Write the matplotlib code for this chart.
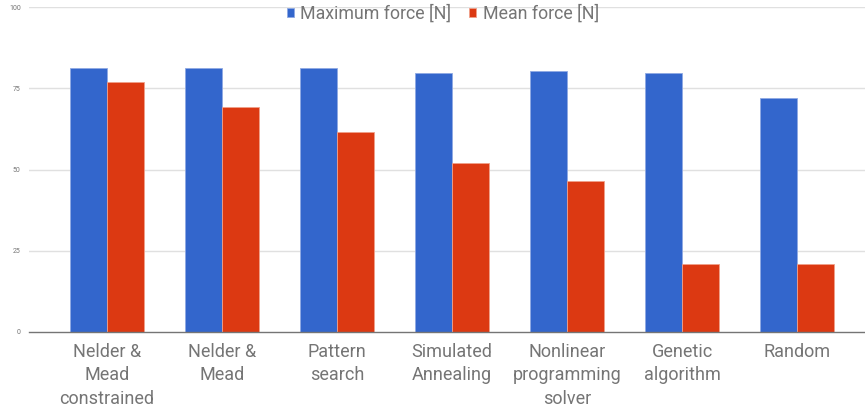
import matplotlib
matplotlib.use("Agg")
import matplotlib.pyplot as plt
import numpy as np

categories = ["Nelder &\nMead\nconstrained", "Nelder &\nMead", "Pattern\nsearch",
              "Simulated\nAnnealing", "Nonlinear\nprogramming\nsolver", "Genetic\nalgorithm", "Random"]
max_force = [81.1, 81.1, 81.1, 79.8, 80.2, 79.8, 71.9]
mean_force = [77.0, 69.3, 61.6, 51.9, 46.6, 20.8, 20.8]
yticks = [0, 25, 50, 75, 100]
series_names = ["Maximum force [N]", "Mean force [N]"]

plt.rcParams['font.family'] = ['Roboto', 'DejaVu Sans']

fig = plt.figure(figsize=(8.65, 4.12), dpi=100)
ax = fig.add_axes([29/865, 1 - 332/412, 836/865, 325/412])

x = np.arange(len(categories))
w = 0.32
ax.bar(x - w/2, max_force, w, color="#3366cc", edgecolor="#8fa9e3", linewidth=0.6, label=series_names[0], zorder=3)
ax.bar(x + w/2, mean_force, w, color="#dc3912", edgecolor="#f0a08a", linewidth=0.6, label=series_names[1], zorder=3)

ax.set_ylim(0, 100)
ax.set_xlim(-0.678, 6.591)
ax.set_yticks(yticks)
ax.set_yticklabels([str(v) for v in yticks], fontsize=5, color="#757575")
ax.tick_params(axis='y', length=0, pad=6)
ax.set_xticks(x)
ax.set_xticklabels(categories, fontsize=13, color="#757575", linespacing=1.38, va='top')
ax.tick_params(axis='x', length=0, pad=8)
for v in yticks[1:]:
    ax.axhline(v, color="#e0e0e0", linewidth=1, zorder=1)
for s in ['top', 'right', 'left']:
    ax.spines[s].set_visible(False)
ax.spines['bottom'].set_color("#757575")
ax.spines['bottom'].set_linewidth(1)
ax.spines['bottom'].set_zorder(4)

leg = fig.legend(loc='center', bbox_to_anchor=(443/865, 1 - 14/412), ncol=2, frameon=False,
                 fontsize=12.8, handlelength=0.4, handleheight=0.4, handletextpad=0.35,
                 columnspacing=1.0, labelcolor="#757575")

fig.savefig("out.png", dpi=100)
